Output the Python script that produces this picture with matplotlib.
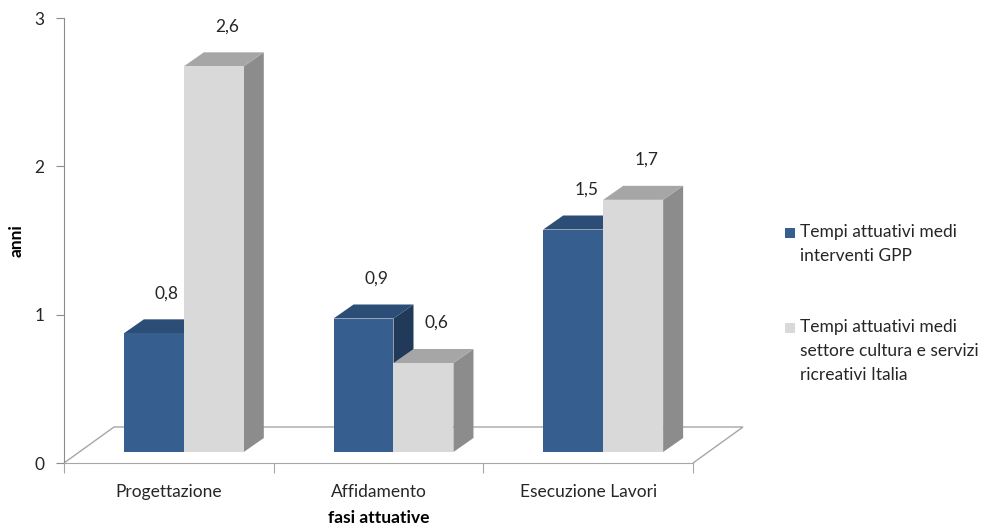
import matplotlib
matplotlib.use("Agg")
import matplotlib.pyplot as plt
from matplotlib.patches import Polygon, Rectangle
from matplotlib.transforms import IdentityTransform

# Data
categories = ["Progettazione", "Affidamento", "Esecuzione Lavori"]
gpp_values = [0.8, 0.9, 1.5]
italia_values = [2.6, 0.6, 1.7]
value_labels_gpp = ["0,8", "0,9", "1,5"]
value_labels_italia = ["2,6", "0,6", "1,7"]
series_names = ["Tempi attuativi medi\ninterventi GPP",
                "Tempi attuativi medi\nsettore cultura e servizi\nricreativi Italia"]
y_ticks = [0, 1, 2, 3]

# Styling
FONT = "Lato"
FS = 12.5
TEXT = "#262626"
AXIS_GREY = "#8C8C8C"
FLOOR_GREY = "#A6A6A6"
BLUE = ("#365F8F", "#2C4D75", "#213A5A")     # front, top, side
GREY = ("#D9D9D9", "#A6A6A6", "#8C8C8C")
BAR_W = 0.286                                  # bar width in category units
FLOOR_DEPTH = (50, 36)                         # px, oblique depth of the floor
BAR_SHIFT = (15, 11)                           # px, bars sit inside the floor depth
BAR_DEPTH = (20, 14)                           # px, depth of each bar

W, H, DPI = 992, 528, 100
fig = plt.figure(figsize=(W / DPI, H / DPI), dpi=DPI)
fig.patch.set_facecolor("white")
ax = fig.add_axes([64 / W, (H - 463) / H, 629 / W, 445 / H])
ax.set_xlim(-0.5, len(categories) - 0.5)
ax.set_ylim(0, 3)
ax.set_facecolor("none")

for s in ("top", "right"):
    ax.spines[s].set_visible(False)
ax.spines["left"].set_color(AXIS_GREY)
ax.spines["bottom"].set_color(FLOOR_GREY)

ax.set_yticks(y_ticks)
ax.set_yticklabels([str(t) for t in y_ticks], fontsize=FS, family=FONT, color=TEXT)
ax.tick_params(axis="y", direction="out", length=6, color=AXIS_GREY, pad=8)

bounds = [i - 0.5 for i in range(len(categories) + 1)]
ax.set_xticks(bounds)
ax.set_xticklabels([""] * len(bounds))
ax.tick_params(axis="x", which="major", direction="out", length=7, color=FLOOR_GREY)
ax.set_xticks(range(len(categories)), minor=True)
ax.set_xticklabels(categories, minor=True, fontsize=FS, family=FONT, color=TEXT)
ax.tick_params(axis="x", which="minor", length=0, pad=15)

ax.set_ylabel("anni", fontsize=FS, family=FONT, fontweight="bold", color="black")
ax.yaxis.set_label_coords(-0.062, 0.5)
ax.set_xlabel("fasi attuative", fontsize=FS, family=FONT, fontweight="bold", color="black")
ax.xaxis.set_label_coords(0.5, -(518 - 463) / 445)
ax.xaxis.label.set_verticalalignment("center")

to_px = ax.transData.transform
ident = IdentityTransform()


def px(x, y, dx=0.0, dy=0.0):
    X, Y = to_px((x, y))
    return (X + dx, Y + dy)


# Floor outline (front edge is the bottom spine)
fdx, fdy = FLOOR_DEPTH
x0, x1 = ax.get_xlim()
floor = [px(x0, 0), px(x0, 0, fdx, fdy), px(x1, 0, fdx, fdy), px(x1, 0)]
ax.add_patch(Polygon(floor, closed=False, fill=False, edgecolor=FLOOR_GREY,
                     linewidth=1.0, transform=ident, clip_on=False, zorder=1))


def bar3d(xl, value, colors, label):
    sx, sy = BAR_SHIFT
    bx, by = BAR_DEPTH
    xr = xl + BAR_W
    fl_b = px(xl, 0, sx, sy)
    fr_b = px(xr, 0, sx, sy)
    fl_t = px(xl, value, sx, sy)
    fr_t = px(xr, value, sx, sy)
    bl_t = (fl_t[0] + bx, fl_t[1] + by)
    br_t = (fr_t[0] + bx, fr_t[1] + by)
    br_b = (fr_b[0] + bx, fr_b[1] + by)
    front, top, side = colors
    ax.add_patch(Polygon([fr_b, br_b, br_t, fr_t], facecolor=side, edgecolor="none",
                         transform=ident, clip_on=False, zorder=2))
    ax.add_patch(Polygon([fl_t, fr_t, br_t, bl_t], facecolor=top, edgecolor="none",
                         transform=ident, clip_on=False, zorder=2))
    ax.add_patch(Polygon([fl_b, fr_b, fr_t, fl_t], facecolor=front, edgecolor="none",
                         transform=ident, clip_on=False, zorder=2))
    cx = (fl_t[0] + fr_t[0]) / 2 + 13
    ax.text(cx, fl_t[1] + 40, label, transform=ident, ha="center", va="center",
            fontsize=FS, family=FONT, color=TEXT, zorder=3)


for i in range(len(categories)):
    bar3d(i - BAR_W, gpp_values[i], BLUE, value_labels_gpp[i])
    bar3d(i, italia_values[i], GREY, value_labels_italia[i])

# Legend
legend_rows = [(233, BLUE[0], series_names[0]), (328, GREY[0], series_names[1])]
for y_px, col, name in legend_rows:
    fig.patches.append(Rectangle((785 / W, 1 - (y_px + 5) / H), 10 / W, 10 / H,
                                 facecolor=col, edgecolor="none",
                                 transform=fig.transFigure, figure=fig))
    fig.text(800 / W, 1 - (y_px - 9) / H, name, ha="left", va="top",
             fontsize=FS, family=FONT, color=TEXT, linespacing=1.6)

fig.savefig("out.png", dpi=DPI, facecolor="white")
